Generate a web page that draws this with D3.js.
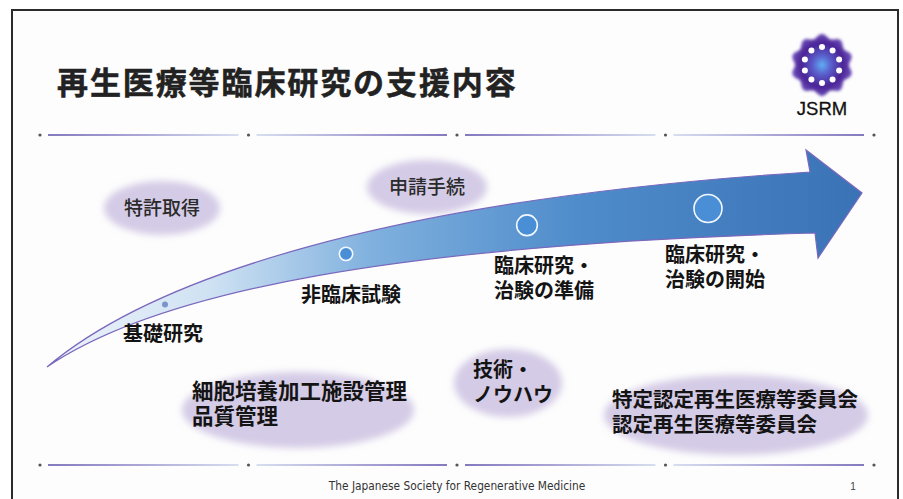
<!DOCTYPE html>
<html>
<head>
<meta charset="utf-8">
<script src="https://cdn.jsdelivr.net/npm/d3@7"></script>
<style>
  body { margin: 0; background: #fff; }
  svg { display: block; }
</style>
</head>
<body>
<svg id="slide"></svg>
<script>
let title = "再生医療等臨床研究の支援内容";
let stages = ["基礎研究", "非臨床試験", "臨床研究・\n治験の準備", "臨床研究・\n治験の開始"];
let stageLevel = [0, 1, 2, 3];
let supports = ["特許取得", "申請手続", "技術・\nノウハウ", "細胞培養加工施設管理\n品質管理", "特定認定再生医療等委員会\n認定再生医療等委員会"];
let footer = "The Japanese Society for Regenerative Medicine";
let pageNo = "1";

function slideConfig(){
    let width = 903;
    let height = 499;
    let container = d3.select("#slide")
        .attr("width", width)
        .attr("height", height);
    let defs = container.append("defs");
    return {width, height, container, defs};
}

function cubic(p, t){
    let u = 1 - t;
    let a = u * u * u, b = 3 * u * u * t, c = 3 * u * t * t, d = t * t * t;
    return [a * p[0][0] + b * p[1][0] + c * p[2][0] + d * p[3][0],
            a * p[0][1] + b * p[1][1] + c * p[2][1] + d * p[3][1]];
}

function yAtX(p, x){
    let lo = 0, hi = 1;
    for(let i = 0; i < 40; i++){
        let mid = (lo + hi) / 2;
        if(cubic(p, mid)[0] < x) lo = mid; else hi = mid;
    }
    return cubic(p, lo)[1];
}

function drawFrame(config){
    let {container} = config;
    container.append("rect")
        .attr("x", 12).attr("y", 10)
        .attr("width", 886).attr("height", 500)
        .attr("fill", "#fdfdfd")
        .attr("stroke", "#2b2b2b")
        .attr("stroke-width", 2);
}

function drawSeparators(config){
    let {container, defs} = config;
    let grad = defs.append("linearGradient").attr("id", "sep");
    grad.append("stop").attr("offset", "0%").attr("stop-color", "#5a4fa8");
    grad.append("stop").attr("offset", "45%").attr("stop-color", "#8d85c8");
    grad.append("stop").attr("offset", "100%").attr("stop-color", "#c9d4ea");
    let gradR = defs.append("linearGradient").attr("id", "sepR");
    gradR.append("stop").attr("offset", "0%").attr("stop-color", "#c9d4ea");
    gradR.append("stop").attr("offset", "55%").attr("stop-color", "#8d85c8");
    gradR.append("stop").attr("offset", "100%").attr("stop-color", "#5a4fa8");

    let x = d3.scaleLinear().domain([0, 4]).range([40, 874]);
    [135, 465].forEach(function(y){
        let g = container.append("g");
        g.selectAll("line").data([0, 1, 2, 3]).enter().append("line")
            .attr("x1", (d) => x(d) + 8)
            .attr("x2", (d) => x(d + 1) - 10)
            .attr("y1", y).attr("y2", y + 0.01)
            .attr("stroke", (d) => d % 2 == 0 ? "url(#sep)" : "url(#sepR)")
            .attr("stroke-width", 1.6);
        g.selectAll("circle").data([0, 1, 2, 3, 4]).enter().append("circle")
            .attr("cx", (d) => x(d)).attr("cy", y)
            .attr("r", 1.6).attr("fill", "#555");
    });
}

function drawTitle(config){
    let {container} = config;
    container.append("text")
        .attr("x", 57).attr("y", 94)
        .attr("font-family", "'Noto Sans CJK JP'")
        .attr("font-weight", 700)
        .attr("font-size", 31)
        .attr("letter-spacing", 1.9)
        .attr("fill", "#222")
        .attr("stroke", "#222")
        .attr("stroke-width", 0.5)
        .text(title);
}

function drawLogo(config){
    let {container, defs} = config;
    let cx = 822, cy = 65;
    let rg = defs.append("radialGradient").attr("id", "logoFill");
    rg.append("stop").attr("offset", "0%").attr("stop-color", "#5fb4f5");
    rg.append("stop").attr("offset", "28%").attr("stop-color", "#5b63d0");
    rg.append("stop").attr("offset", "70%").attr("stop-color", "#4a2294");
    rg.append("stop").attr("offset", "100%").attr("stop-color", "#6a4cb8");
    let blur = defs.append("filter").attr("id", "logoBlur")
        .attr("x", "-30%").attr("y", "-30%").attr("width", "160%").attr("height", "160%");
    blur.append("feGaussianBlur").attr("stdDeviation", 1.6);

    let lobes = 10;
    let pts = d3.range(0, 360, 3).map(function(a){
        let rad = a * Math.PI / 180;
        let r = 29 + 2 * Math.cos(lobes * rad);
        return [cx + r * Math.sin(rad), cy - r * Math.cos(rad)];
    });
    container.append("path")
        .attr("d", d3.line().curve(d3.curveCardinalClosed)(pts))
        .attr("fill", "url(#logoFill)")
        .attr("filter", "url(#logoBlur)");
    container.selectAll(".petal").data(d3.range(lobes)).enter().append("circle")
        .attr("cx", (d) => cx + 18 * Math.sin(d * 2 * Math.PI / lobes))
        .attr("cy", (d) => cy - 18 * Math.cos(d * 2 * Math.PI / lobes))
        .attr("r", 3)
        .attr("fill", "#fff");
    container.append("text")
        .attr("x", cx).attr("y", 115)
        .attr("text-anchor", "middle")
        .attr("font-family", "'Liberation Sans', Arial")
        .attr("font-size", 18.5)
        .attr("fill", "#111")
        .attr("stroke", "#111")
        .attr("stroke-width", 0.3)
        .text("JSRM");
}

function drawArrow(config){
    let {container, defs} = config;
    let upper = [[47, 367], [150, 280], [380, 200], [810, 172]];
    let lower = [[815, 233], [400, 245], [160, 290], [47, 367]];
    let head = [[806, 150], [862, 193], [818, 258]];

    let grad = defs.append("linearGradient").attr("id", "arrowFill")
        .attr("gradientUnits", "userSpaceOnUse")
        .attr("x1", 47).attr("x2", 862).attr("y1", 0).attr("y2", 0);
    grad.append("stop").attr("offset", "0%").attr("stop-color", "#eef4fa");
    grad.append("stop").attr("offset", "20%").attr("stop-color", "#cfe2f3");
    grad.append("stop").attr("offset", "40%").attr("stop-color", "#7fb0de");
    grad.append("stop").attr("offset", "65%").attr("stop-color", "#4f8ccb");
    grad.append("stop").attr("offset", "100%").attr("stop-color", "#3a72b6");

    let p = d3.path();
    p.moveTo(upper[0][0], upper[0][1]);
    p.bezierCurveTo(upper[1][0], upper[1][1], upper[2][0], upper[2][1], upper[3][0], upper[3][1]);
    head.forEach((h) => p.lineTo(h[0], h[1]));
    p.lineTo(lower[0][0], lower[0][1]);
    p.bezierCurveTo(lower[1][0], lower[1][1], lower[2][0], lower[2][1], lower[3][0], lower[3][1]);
    p.closePath();
    container.append("path")
        .attr("d", p.toString())
        .attr("fill", "url(#arrowFill)")
        .attr("stroke", "#7a68bd")
        .attr("stroke-width", 1.2)
        .attr("stroke-linejoin", "miter");

    let lowerFwd = lower.slice().reverse();
    return {upper, lowerFwd};
}

function multiLine(sel, rows, style){
    rows.forEach(function(d){
        d.label.split("\n").forEach(function(line, j){
            let t = sel.append("text")
                .attr("x", d.tx)
                .attr("y", d.ty + j * 25)
                .attr("text-anchor", d.anchor || "start")
                .attr("font-family", "'Noto Sans CJK JP'")
                .attr("font-weight", style.weight(d))
                .attr("font-size", style.size(d))
                .attr("fill", style.fill(d))
                .text(line);
        });
    });
}

function drawStages(config, arrow){
    let {container} = config;
    let {upper, lowerFwd} = arrow;
    let xScale = d3.scalePoint().domain(stages).range([165, 708]);
    let rScale = d3.scaleLinear().domain([0, 3]).range([3, 14]);
    let offsets = [[-42, 22], [-45, 24], [-33, 17], [-43, 18]];

    let rows = stages.map(function(s, i){
        let cx = xScale(s);
        let yu = yAtX(upper, cx);
        let yl = yAtX(lowerFwd, cx);
        let off = offsets[i];
        return {label: s, level: stageLevel[i], cx, cy: (yu + yl) / 2,
                tx: cx + off[0], ty: yl + off[1] + 7};
    });

    container.selectAll(".stage").data(rows).enter().append("circle")
        .attr("cx", (d) => d.cx)
        .attr("cy", (d) => d.cy)
        .attr("r", (d) => rScale(d.level))
        .attr("fill", (d) => d.level == 0 ? "#7b95cc" : "#4a8fd6")
        .attr("stroke", (d) => d.level == 0 ? "none" : "#f2f8ff")
        .attr("stroke-width", 1.6);

    multiLine(container.append("g"), rows, {
        weight: () => 700,
        size: () => 20,
        fill: () => "#141414"
    });
}

function drawSupports(config){
    let {container, defs} = config;
    let soft = defs.append("filter").attr("id", "soft")
        .attr("x", "-20%").attr("y", "-30%").attr("width", "140%").attr("height", "160%");
    soft.append("feGaussianBlur").attr("stdDeviation", 3.5);

    // layout of the support bubbles: centre, radii, text start, font size
    let layout = [
        {cx: 162, cy: 208, rx: 58, ry: 27, tx: 162, ty: 215, anchor: "middle", bold: false, fs: 19},
        {cx: 427, cy: 187, rx: 60, ry: 27, tx: 427, ty: 194, anchor: "middle", bold: false, fs: 19},
        {cx: 508, cy: 383, rx: 54, ry: 34, tx: 473, ty: 377, anchor: "start", bold: true, fs: 20},
        {cx: 298, cy: 410, rx: 116, ry: 38, tx: 192, ty: 399, anchor: "start", bold: true, fs: 21.5},
        {cx: 736, cy: 415, rx: 132, ry: 40, tx: 612, ty: 407, anchor: "start", bold: true, fs: 20.5}
    ];
    let rows = supports.map((s, i) => Object.assign({label: s}, layout[i]));

    container.selectAll(".bubble").data(rows).enter().append("ellipse")
        .attr("cx", (d) => d.cx).attr("cy", (d) => d.cy)
        .attr("rx", (d) => d.rx).attr("ry", (d) => d.ry)
        .attr("fill", "#d4cbe6")
        .attr("filter", "url(#soft)");

    multiLine(container.append("g"), rows, {
        weight: (d) => d.bold ? 700 : 500,
        size: (d) => d.fs,
        fill: (d) => d.bold ? "#141414" : "#2a2a2a"
    });
}

function drawFooter(config){
    let {container} = config;
    container.append("text")
        .attr("x", 457).attr("y", 490)
        .attr("text-anchor", "middle")
        .attr("font-family", "'DejaVu Sans Condensed', 'Liberation Sans'")
        .attr("font-size", 11.8)
        .attr("fill", "#333")
        .text(footer);
    container.append("text")
        .attr("x", 853).attr("y", 490)
        .attr("text-anchor", "middle")
        .attr("font-family", "'Liberation Sans'")
        .attr("font-size", 10)
        .attr("fill", "#444")
        .text(pageNo);
}

let config = slideConfig();
drawFrame(config);
drawSeparators(config);
drawTitle(config);
drawLogo(config);
drawSupports(config);
let arrow = drawArrow(config);
drawStages(config, arrow);
drawFooter(config);
</script>
</body>
</html>
